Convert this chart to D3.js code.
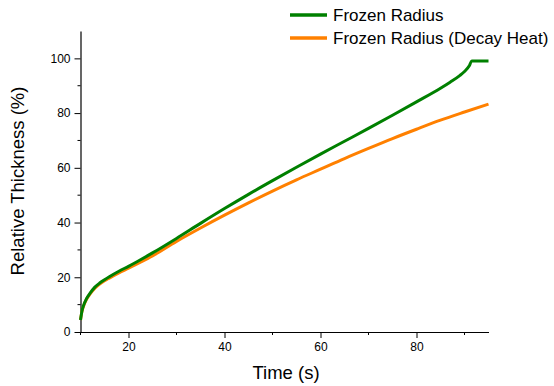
<!DOCTYPE html>
<html>
<head>
<meta charset="utf-8">
<style>
  body { margin: 0; background: #fff; }
  svg { display: block; font-family: "Liberation Sans", Arial, sans-serif; }
</style>
</head>
<body>
<svg id="chart" width="554" height="386"></svg>
<script src="https://d3js.org/d3.v7.min.js"></script>
<script>
// data
const timeGreen = [10, 10.3, 10.7, 11.2, 12, 13, 14, 15, 16, 18, 20, 22.5, 25, 30, 35, 40, 45, 50, 55, 60, 65, 70, 75, 80, 85, 87, 89, 90, 91, 91.5, 95];
const frozenRadius = [4.4, 7.6, 10, 12, 14.2, 16.4, 17.9, 19.1, 20.2, 22.2, 24, 26.4, 28.9, 34.2, 39.7, 45.1, 50.3, 55.3, 60.2, 65, 69.7, 74.4, 79.2, 84.1, 89.1, 91.3, 93.7, 95.2, 97.3, 99, 99];
const timeOrange = [10, 10.3, 10.7, 11.2, 12, 13, 14, 15, 16, 18, 20, 22.5, 25, 30, 35, 40, 45, 50, 55, 60, 65, 70, 75, 80, 85, 90, 95];
const frozenRadiusDecay = [4.4, 7.5, 9.8, 11.8, 13.9, 16, 17.5, 18.7, 19.7, 21.6, 23.3, 25.5, 27.8, 33.1, 38, 42.7, 47.2, 51.5, 55.6, 59.5, 63.4, 67.1, 70.7, 74.1, 77.4, 80.4, 83.3];
const xTicks = [20, 40, 60, 80];
const xMinor = [10, 30, 50, 70, 90];
const yTicks = [0, 20, 40, 60, 80, 100];
const yMinor = [10, 30, 50, 70, 90];

const svg = d3.select("#chart");
const x = d3.scaleLinear().domain([10, 95]).range([80.5, 488.5]);
const y = d3.scaleLinear().domain([0, 110]).range([332, 31]);

// axes
const xAxis = svg.append("g").attr("transform", "translate(0,332)")
  .call(d3.axisBottom(x).tickValues(xTicks).tickSize(6).tickSizeOuter(0).tickPadding(4));
xAxis.append("g").selectAll("line").data(xMinor).enter().append("line")
  .attr("x1", d => x(d)).attr("x2", d => x(d)).attr("y1", 0).attr("y2", 3).attr("stroke", "#000");

const yAxis = svg.append("g").attr("transform", "translate(80.5,0)")
  .call(d3.axisLeft(y).tickValues(yTicks).tickSize(6).tickSizeOuter(0).tickPadding(4));
yAxis.append("g").selectAll("line").data(yMinor).enter().append("line")
  .attr("y1", d => y(d)).attr("y2", d => y(d)).attr("x1", 0).attr("x2", -3).attr("stroke", "#000");

svg.selectAll(".tick text").attr("font-size", 12).attr("fill", "#000")
  .attr("font-family", "Liberation Sans, Arial, sans-serif");
svg.selectAll(".domain").attr("stroke", "#000").attr("stroke-width", 1.2);

// lines
const line = d3.line().x(d => x(d[0])).y(d => y(d[1])).curve(d3.curveMonotoneX);
svg.append("path").datum(d3.zip(timeOrange, frozenRadiusDecay))
  .attr("d", line).attr("fill", "none").attr("stroke", "#FF8000").attr("stroke-width", 3);
svg.append("path").datum(d3.zip(timeGreen, frozenRadius))
  .attr("d", line).attr("fill", "none").attr("stroke", "#008000").attr("stroke-width", 3);

// titles
svg.append("text").attr("x", 286).attr("y", 379).attr("text-anchor", "middle")
  .attr("font-size", 18.5).text("Time (s)");
svg.append("text").attr("transform", "translate(24,181) rotate(-90)").attr("text-anchor", "middle")
  .attr("font-size", 18.5).text("Relative Thickness (%)");

// legend
const legend = [["Frozen Radius", "#008000"], ["Frozen Radius (Decay Heat)", "#FF8000"]];
legend.forEach((d, i) => {
  const yy = 15 + i * 23;
  svg.append("line").attr("x1", 290).attr("x2", 327).attr("y1", yy).attr("y2", yy)
    .attr("stroke", d[1]).attr("stroke-width", 3.5);
  svg.append("text").attr("x", 333).attr("y", yy + 6).attr("font-size", 17).text(d[0]);
});
</script>
</body>
</html>
